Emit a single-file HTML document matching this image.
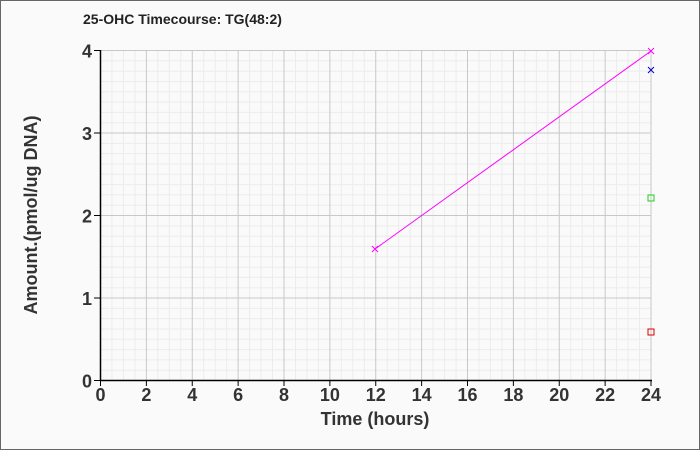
<!DOCTYPE html>
<html><head><style>
html,body{margin:0;padding:0;background:#fafafa;}
svg{display:block;font-family:"Liberation Sans",Arial,sans-serif;}
</style></head><body>
<svg width="700" height="450" viewBox="0 0 700 450" xmlns="http://www.w3.org/2000/svg">
<rect x="0.5" y="0.5" width="699" height="449" fill="#fafafa" stroke="#666" stroke-width="1"/>
<text x="83" y="24" font-size="14" font-weight="bold" fill="#222">25-OHC Timecourse: TG(48:2)</text>
<g stroke="#ebebeb" stroke-width="1">
<script></script>
</g>
<g id="minor" stroke="#ececec" stroke-width="1"></g>
<g id="major" stroke="#c8c8c8" stroke-width="1"></g>
<g id="ticks" fill="#333" font-size="18" font-weight="bold"></g>
<line x1="100.5" y1="50" x2="100.5" y2="381" stroke="#000" stroke-width="1.5"/>
<line x1="100" y1="380.5" x2="652" y2="380.5" stroke="#000" stroke-width="1.5"/>
<polyline points="375,249 651,51" fill="none" stroke="#ff00ff" stroke-width="1"/>
<g stroke="#ff00ff" stroke-width="1"><path d="M372,246 L378,252 M378,246 L372,252"/><path d="M648,48 L654,54 M654,48 L648,54"/></g>
<g stroke="#0000cc" stroke-width="1"><path d="M648,67 L654,73 M654,67 L648,73"/></g>
<rect x="648" y="195" width="6" height="6" fill="none" stroke="#22cc22"/>
<rect x="648" y="329" width="6" height="6" fill="none" stroke="#dd0000"/>
<text x="375" y="425" font-size="18" font-weight="bold" fill="#333" text-anchor="middle">Time (hours)</text>
<text transform="translate(37,215) rotate(-90)" font-size="18" font-weight="bold" fill="#333" text-anchor="middle">Amount.(pmol/ug DNA)</text>
</svg>
<script>
var ns="http://www.w3.org/2000/svg";
function L(g,x1,y1,x2,y2){var l=document.createElementNS(ns,"line");l.setAttribute("x1",x1);l.setAttribute("y1",y1);l.setAttribute("x2",x2);l.setAttribute("y2",y2);document.getElementById(g).appendChild(l);}
function T(x,y,s,a){var t=document.createElementNS(ns,"text");t.setAttribute("x",x);t.setAttribute("y",y);t.setAttribute("text-anchor",a);t.textContent=s;document.getElementById("ticks").appendChild(t);}
var x0=100.5,xs=(651-100.5)/24,y0=380.5,ys=(380.5-50.5)/4;
for(var i=1;i<=48;i++){var x=x0+i*xs/2;L(i%4==0?"major":"minor",x,50,x,380);}
for(var j=1;j<=32;j++){var y=y0-j*ys/8;L(j%8==0?"major":"minor",101,y,651,y);}
for(var i=0;i<=24;i+=2){var x=x0+i*xs;L("major",x,380,x,386);document.getElementById("major").lastChild.setAttribute("stroke","#000");T(x,401,String(i),"middle");}
for(var j=0;j<=4;j++){var y=y0-j*ys;L("major",94,y,100,y);document.getElementById("major").lastChild.setAttribute("stroke","#000");T(92,y+7,String(j),"end");}
</script>
</body></html>
